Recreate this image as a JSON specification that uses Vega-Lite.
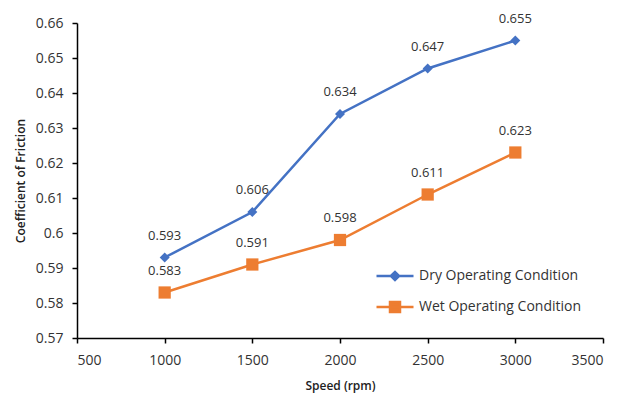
{
  "$schema": "https://vega.github.io/schema/vega-lite/v6.json",
  "width": 526,
  "height": 315,
  "autosize": {"type": "none"},
  "padding": {"left": 77, "top": 23, "right": 21, "bottom": 56},
  "background": "white",
  "config": {
    "view": {"stroke": null},
    "font": "Open Sans",
    "axis": {"grid": false, "domainColor": "#000000", "domainWidth": 1.5, "tickColor": "#000000", "tickWidth": 1.5, "tickSize": 5, "labelFont": "Open Sans", "labelFontSize": 14, "labelColor": "#333333", "titleFont": "Open Sans", "titleFontSize": 12, "titleFontWeight": 600, "titleColor": "#222222"}
  },
  "data": {"values": [
    {"speed": 1000, "cof": 0.593, "series": "Dry Operating Condition"},
    {"speed": 1500, "cof": 0.606, "series": "Dry Operating Condition"},
    {"speed": 2000, "cof": 0.634, "series": "Dry Operating Condition"},
    {"speed": 2500, "cof": 0.647, "series": "Dry Operating Condition"},
    {"speed": 3000, "cof": 0.655, "series": "Dry Operating Condition"},
    {"speed": 1000, "cof": 0.583, "series": "Wet Operating Condition"},
    {"speed": 1500, "cof": 0.591, "series": "Wet Operating Condition"},
    {"speed": 2000, "cof": 0.598, "series": "Wet Operating Condition"},
    {"speed": 2500, "cof": 0.611, "series": "Wet Operating Condition"},
    {"speed": 3000, "cof": 0.623, "series": "Wet Operating Condition"}
  ]},
  "encoding": {
    "x": {"field": "speed", "type": "quantitative", "scale": {"domain": [500, 3500], "nice": false, "zero": false},
      "axis": {"title": "Speed (rpm)", "format": "d", "values": [500, 1000, 1500, 2000, 2500, 3000, 3500], "labelPadding": 10, "titleBaseline": "middle", "titleY": 47}},
    "y": {"field": "cof", "type": "quantitative", "scale": {"domain": [0.57, 0.66], "nice": false, "zero": false},
      "axis": {"title": "Coefficient of Friction", "format": ".2~f", "values": [0.57, 0.58, 0.59, 0.6, 0.61, 0.62, 0.63, 0.64, 0.65, 0.66], "labelPadding": 9, "titleBaseline": "middle", "titleX": -57}},
    "color": {"field": "series", "type": "nominal",
      "scale": {"domain": ["Dry Operating Condition", "Wet Operating Condition"], "range": ["#4472C4", "#ED7D31"]},
      "legend": {"title": null, "orient": "none", "legendX": 298, "legendY": 243, "labelFontSize": 14, "labelColor": "#333333", "labelFont": "Open Sans", "labelLimit": 400, "symbolSize": 1369, "clipHeight": 20, "rowPadding": 11, "labelOffset": 4, "symbolStrokeWidth": 2.5,
        "encode": {"symbols": {"update": {
          "shape": {"signal": "datum.value === 'Dry Operating Condition' ? 'M-1,0H1M-0.22,0L0,-0.22L0.22,0L0,0.22Z' : 'M-1,0H1M-0.27,-0.27H0.27V0.27H-0.27Z'"},
          "fill": {"signal": "datum.value === 'Dry Operating Condition' ? '#4472C4' : '#ED7D31'"},
          "stroke": {"signal": "datum.value === 'Dry Operating Condition' ? '#4472C4' : '#ED7D31'"},
          "strokeWidth": {"value": 2.5},
          "opacity": {"value": 1}
        }}}}
    }
  },
  "layer": [
    {"mark": {"type": "line", "strokeWidth": 2.5}},
    {"transform": [{"filter": "datum.series === 'Dry Operating Condition'"}],
      "mark": {"type": "point", "filled": true, "opacity": 1, "shape": "diamond", "size": 100}},
    {"transform": [{"filter": "datum.series === 'Wet Operating Condition'"}],
      "mark": {"type": "point", "filled": true, "opacity": 1, "shape": "square", "size": 150}},
    {"mark": {"type": "text", "dy": -22, "fontSize": 13, "color": "#333333", "font": "Open Sans", "baseline": "middle"},
      "encoding": {"text": {"field": "cof", "type": "quantitative", "format": ".3f"}, "color": {"value": "#333333"}}}
  ]
}
